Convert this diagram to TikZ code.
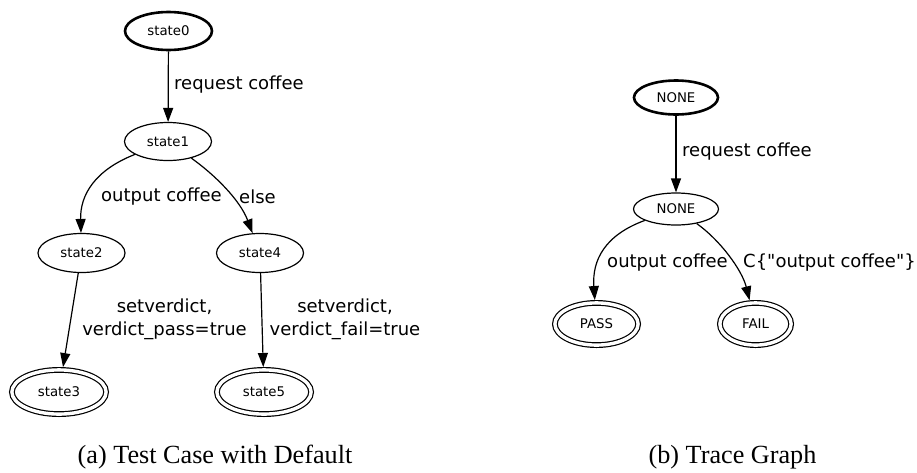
\documentclass[tikz,border=0pt]{standalone}
\usepackage{fontspec}
\setmainfont{DejaVu Sans}
% plain family, so that " stays a straight quote
\newfontfamily\graphfont{DejaVu Sans}
\newfontfamily\capfont{Liberation Serif}
\usetikzlibrary{shapes.geometric,arrows.meta}

\tikzset{
  state/.style={ellipse, draw, line width=1.2pt, inner sep=0pt,
    minimum width=87pt, minimum height=38pt,
    font=\graphfont\fontsize{13.3}{16}\selectfont},
  startstate/.style={state, line width=2.6pt},
  finalstate/.style={state, double, double distance=3.4pt, outer sep=2.9pt,
    minimum width=94.2pt, minimum height=44.2pt},
  edge/.style={line width=1.2pt, -{Triangle[length=14pt,width=10pt]}},
  elabel/.style={font=\graphfont\fontsize{18}{23}\selectfont, inner sep=0pt, align=center},
  caption/.style={font=\capfont\fontsize{26.2}{30}\selectfont, inner sep=0pt}
}

\begin{document}
\begin{tikzpicture}[x=1pt, y=-1pt]
  \useasboundingbox (0,0) rectangle (917,472);

  % (a) test case automaton
  \node[startstate] (s0) at (168.5,31) {state0};
  \node[state] (s1) at (168,141.5) {state1};
  \node[state, minimum height=39pt] (s2) at (81.5,253) {state2};
  \node[state, minimum height=39pt] (s4) at (260,253) {state4};
  \node[finalstate] (s3) at (59,392) {state3};
  \node[finalstate] (s5) at (264,392) {state5};

  \draw[edge] (s0) -- (s1);
  \draw[edge] (s1) .. controls (95,170) and (80,195) .. (s2);
  \draw[edge] (s1) .. controls (215,175) and (240,200) .. (s4);
  \draw[edge] (s2) -- (s3);
  \draw[edge] (s4) -- (s5);

  \node[elabel, anchor=west] (l01) at (174,85) {request coffee};
  \node[elabel] (l12) at (161.5,197) {output coffee};
  \node[elabel] (l14) at (257.5,197) {else};
  \node[elabel] (l23) at (164.5,319.5) {setverdict,\\verdict\_pass=true};
  \node[elabel] (l45) at (345,319.5) {setverdict,\\verdict\_fail=true};

  \node[caption] (capa) at (215,457) {(a) Test Case with Default};

  % (b) trace graph
  \node[startstate, minimum width=84pt, minimum height=34pt] (n0) at (676,97.5) {NONE};
  \node[state, minimum width=85pt, minimum height=32pt] (n1) at (676,209) {NONE};
  \node[finalstate, minimum width=83.2pt, minimum height=42.2pt] (pass) at (596.5,324) {PASS};
  \node[finalstate, minimum width=71.2pt, minimum height=42.2pt] (fail) at (755.5,324) {FAIL};

  \draw[edge] (n0) -- (n1);
  \draw[edge] (n1) .. controls (605,235) and (592,260) .. (pass);
  \draw[edge] (n1) .. controls (720,240) and (742,270) .. (fail);

  \node[elabel, anchor=west] (m01) at (682,152) {request coffee};
  \node[elabel] (mpass) at (667.5,263) {output coffee};
  \node[elabel, anchor=west] (mfail) at (743,263) {C\{"output coffee"\}};

  \node[caption] (capb) at (732.5,457) {(b) Trace Graph};
\end{tikzpicture}
\end{document}
